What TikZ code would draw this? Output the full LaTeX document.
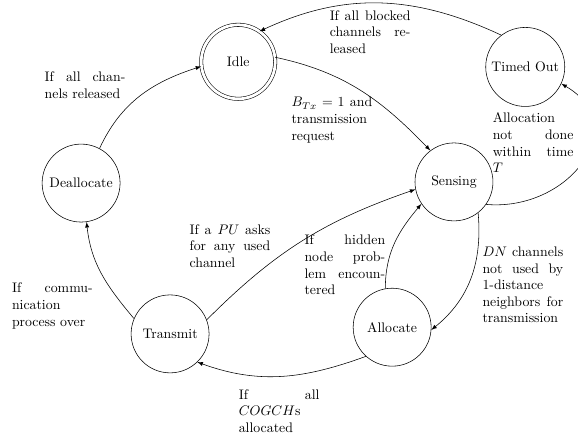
\documentclass[tikz,border=0pt]{standalone}

\begin{document}
\begin{tikzpicture}
      [%%%%%%%%%%%%%%%%%%%%%%%%%%%%%%
      state/.style={circle,draw=black,minimum size=1.98cm},
      final/.style={state,double,double distance=2pt,minimum size=1.88cm},
      cond/.style={text width=2.05cm,align=justify,inner sep=0pt},
      move/.style={->,>=latex},
      ]%%%%%%%%%%%%%%%%%%%%%%%%%%%%%%
      \useasboundingbox (0,0) rectangle (14.68,-11.15);

      \node[final] (idle) at (6.05,-1.57){Idle};
      \node[state] (timeout) at (13.34,-1.70){Timed Out};
      \node[state] (sensing) at (11.53,-4.62){Sensing};
      \node[state] (dealloc) at (2.06,-4.65){Deallocate};
      \node[state] (transmit) at (4.32,-8.48){Transmit};
      \node[state] (alloc) at (9.96,-8.31){Allocate};

      \draw[move] (idle.7) to[out=-12,in=134] (sensing.127);
      \draw[move] (timeout.127) to[out=155,in=25] (idle.55);
      \draw[move] (sensing.-35) to[out=-5,in=-30,looseness=1.5] (timeout.-25);
      \draw[move] (dealloc.62) to[out=65,in=198] (idle.187);
      \draw[move] (transmit.157) to[out=130,in=-84] (dealloc.-82);
      \draw[move] (transmit.21) to[out=45,in=199] (sensing.191);
      \draw[move] (alloc.100) to[out=90,in=230] (sensing.214);
      \draw[move] (sensing.-52) to[out=-85,in=39] (alloc.-4);
      \draw[move] (alloc.-132) to[out=200,in=-20] (transmit.-46);

      \node[cond] (c1) at (8.43,-3.05){$B_{Tx} = 1$ and transmission request};
      \node[cond] (c2) at (9.40,-0.81){If all blocked channels released};
      \node[cond] (c3) at (13.54,-3.63){Allocation not done within time $T$};
      \node[cond] (c4) at (2.16,-2.16){If all channels released};
      \node[cond] (c5) at (1.33,-7.77){If communication process over};
      \node[cond] (c6) at (5.84,-6.25){If a $PU$ asks for any used channel};
      \node[cond] (c7) at (8.76,-6.73){If \mbox{hidden} node problem encountered};
      \node[cond] (c8) at (13.28,-7.24){$DN$ channels not used by 1-distance neighbors for transmission};
      \node[cond] (c9) at (7.09,-10.44){If all $COGCH$s allocated};
    \end{tikzpicture}
\end{document}
